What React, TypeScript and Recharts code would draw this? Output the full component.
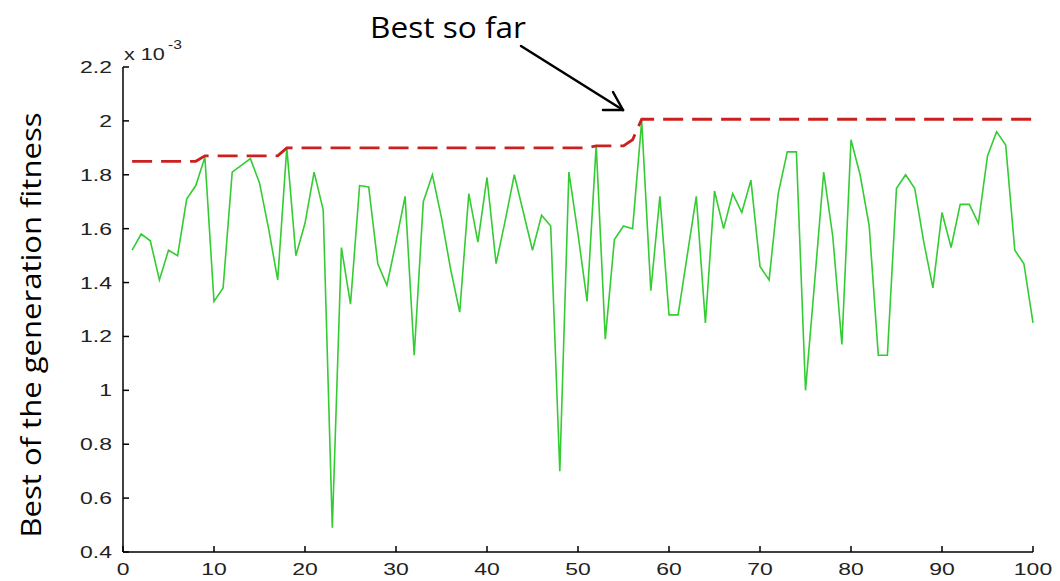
import { Line, LineChart, XAxis, YAxis } from "recharts";

// best fitness of each generation (x 10^-3), generations 1..100
const generationFitness = [
  1.52, 1.58, 1.555, 1.41, 1.52, 1.5, 1.71, 1.76, 1.865, 1.33,
  1.38, 1.81, 1.835, 1.86, 1.77, 1.6, 1.41, 1.9, 1.5, 1.62,
  1.81, 1.67, 0.49, 1.53, 1.32, 1.76, 1.755, 1.47, 1.39, 1.55,
  1.72, 1.13, 1.7, 1.8, 1.64, 1.45, 1.29, 1.73, 1.55, 1.79,
  1.47, 1.63, 1.8, 1.66, 1.52, 1.65, 1.61, 0.7, 1.81, 1.58,
  1.33, 1.91, 1.19, 1.56, 1.61, 1.6, 2.0, 1.37, 1.72, 1.28,
  1.28, 1.5, 1.72, 1.25, 1.74, 1.6, 1.73, 1.66, 1.78, 1.46,
  1.41, 1.73, 1.885, 1.885, 1.0, 1.4, 1.81, 1.57, 1.17, 1.93,
  1.8, 1.61, 1.13, 1.13, 1.75, 1.8, 1.75, 1.55, 1.38, 1.66,
  1.53, 1.69, 1.69, 1.62, 1.87, 1.96, 1.91, 1.52, 1.47, 1.25,
];

// best so far, generations 1..100
const bestSoFar = [
  1.85, 1.85, 1.85, 1.85, 1.85, 1.85, 1.85, 1.85, 1.87, 1.87,
  1.87, 1.87, 1.87, 1.87, 1.87, 1.87, 1.87, 1.9, 1.9, 1.9,
  1.9, 1.9, 1.9, 1.9, 1.9, 1.9, 1.9, 1.9, 1.9, 1.9,
  1.9, 1.9, 1.9, 1.9, 1.9, 1.9, 1.9, 1.9, 1.9, 1.9,
  1.9, 1.9, 1.9, 1.9, 1.9, 1.9, 1.9, 1.9, 1.9, 1.9,
  1.9, 1.907, 1.907, 1.907, 1.907, 1.93, 2.006, 2.006, 2.006, 2.006,
  2.006, 2.006, 2.006, 2.006, 2.006, 2.006, 2.006, 2.006, 2.006, 2.006,
  2.006, 2.006, 2.006, 2.006, 2.006, 2.006, 2.006, 2.006, 2.006, 2.006,
  2.006, 2.006, 2.006, 2.006, 2.006, 2.006, 2.006, 2.006, 2.006, 2.006,
  2.006, 2.006, 2.006, 2.006, 2.006, 2.006, 2.006, 2.006, 2.006, 2.006,
];

const xTicks = [0, 10, 20, 30, 40, 50, 60, 70, 80, 90, 100];
const yTicks = [0.4, 0.6, 0.8, 1, 1.2, 1.4, 1.6, 1.8, 2, 2.2];

const data = generationFitness.map((v, i) => ({
  gen: i + 1,
  fitness: v,
  best: bestSoFar[i],
}));

const tickFont = "'Liberation Sans', Arial, sans-serif";
const noteFont = "'Open Sans', 'Noto Sans', sans-serif";

function YTick({ x, y, payload }: any) {
  return (
    <g>
      <line x1={x} x2={x + 6} y1={y} y2={y} stroke="#000" strokeWidth={1.5} />
      <text
        transform={`translate(${x - 11},${y + 6}) scale(1.35,1)`}
        textAnchor="end"
        fontSize={17}
        fontFamily={tickFont}
        fill="#222"
      >
        {payload.value}
      </text>
    </g>
  );
}

function XTick({ x, y, payload }: any) {
  return (
    <g>
      <line x1={x} x2={x} y1={y} y2={y - 6} stroke="#000" strokeWidth={1.5} />
      <text
        transform={`translate(${x},${y + 23}) scale(1.35,1)`}
        textAnchor="middle"
        fontSize={17}
        fontFamily={tickFont}
        fill="#222"
      >
        {payload.value}
      </text>
    </g>
  );
}

export default function App() {
  return (
    <div style={{ position: "absolute", left: 0, top: 0, width: 1060, height: 581, background: "#fff" }}>
      <LineChart
        width={1060}
        height={581}
        data={data}
        margin={{ top: 67, right: 27, left: 0, bottom: 0 }}
      >
        <XAxis
          type="number"
          dataKey="gen"
          domain={[0, 100]}
          ticks={xTicks}
          height={29}
          tickSize={0}
          tickMargin={0}
          tickLine={false}
          tick={XTick}
          axisLine={{ stroke: "#000", strokeWidth: 1.5 }}
        />
        <YAxis
          type="number"
          domain={[0.4, 2.2]}
          ticks={yTicks}
          width={123}
          tickSize={0}
          tickMargin={0}
          tickLine={false}
          tick={YTick}
          axisLine={{ stroke: "#000", strokeWidth: 1.5 }}
        />
        <Line
          type="linear"
          dataKey="fitness"
          stroke="#33cc33"
          strokeWidth={1.6}
          dot={false}
          isAnimationActive={false}
        />
        <Line
          type="linear"
          dataKey="best"
          stroke="#cc2020"
          strokeWidth={2.8}
          strokeDasharray="20 9"
          dot={false}
          isAnimationActive={false}
        />
      </LineChart>
      <svg
        width={1060}
        height={581}
        style={{ position: "absolute", left: 0, top: 0, pointerEvents: "none" }}
      >
        <text transform="translate(124,60) scale(1.35,1)" fontSize={16} fontFamily={tickFont} fill="#222">
          x 10
        </text>
        <text transform="translate(168,49) scale(1.3,1)" fontSize={12} fontFamily={tickFont} fill="#222">
          -3
        </text>
        <text
          transform="translate(41,325) rotate(-90)"
          textAnchor="middle"
          fontSize={27}
          fontFamily={noteFont}
          textLength={425}
          lengthAdjust="spacingAndGlyphs"
          fill="#000"
        >
          Best of the generation fitness
        </text>
        <text
          x={370}
          y={38}
          fontSize={30}
          fontFamily={noteFont}
          textLength={156}
          lengthAdjust="spacingAndGlyphs"
          fill="#000"
        >
          Best so far
        </text>
        <g stroke="#000" strokeWidth={2.5} fill="none" strokeLinecap="round">
          <line x1={521} y1={46} x2={623} y2={110} />
          <line x1={623} y1={110} x2={603} y2={110} />
          <line x1={623} y1={110} x2={613} y2={92} />
        </g>
      </svg>
    </div>
  );
}
